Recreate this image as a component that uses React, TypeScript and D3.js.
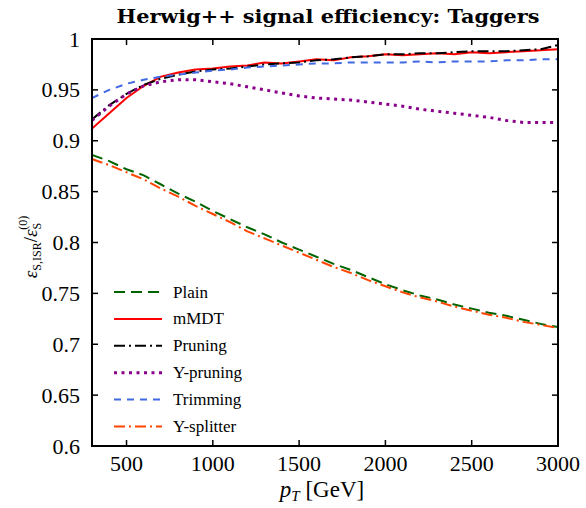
import React from "react";
import * as d3 from "d3";

const pT = [300, 400, 500, 600, 700, 800, 900, 1000, 1100, 1200, 1300, 1400, 1500, 1600, 1700, 1800, 1900, 2000, 2100, 2200, 2300, 2400, 2500, 2600, 2700, 2800, 2900, 3000];

const plain = [0.886, 0.880, 0.872, 0.866, 0.857, 0.848, 0.840, 0.831, 0.823, 0.815, 0.808, 0.800, 0.793, 0.786, 0.779, 0.773, 0.766, 0.759, 0.753, 0.748, 0.744, 0.739, 0.735, 0.731, 0.728, 0.724, 0.720, 0.717];
const mmdt = [0.912, 0.927, 0.942, 0.954, 0.963, 0.967, 0.970, 0.971, 0.973, 0.974, 0.977, 0.976, 0.978, 0.980, 0.979, 0.982, 0.983, 0.985, 0.984, 0.985, 0.986, 0.985, 0.987, 0.986, 0.987, 0.988, 0.989, 0.990];
const pruning = [0.921, 0.935, 0.946, 0.955, 0.961, 0.965, 0.968, 0.970, 0.971, 0.973, 0.975, 0.976, 0.977, 0.979, 0.980, 0.982, 0.983, 0.985, 0.985, 0.986, 0.986, 0.987, 0.988, 0.988, 0.988, 0.989, 0.990, 0.994];
const ypruning = [0.920, 0.934, 0.946, 0.954, 0.958, 0.960, 0.960, 0.958, 0.956, 0.953, 0.950, 0.947, 0.944, 0.942, 0.941, 0.940, 0.938, 0.936, 0.934, 0.931, 0.929, 0.927, 0.925, 0.923, 0.920, 0.918, 0.918, 0.918];
const trimming = [0.942, 0.950, 0.956, 0.960, 0.963, 0.965, 0.967, 0.969, 0.970, 0.972, 0.973, 0.974, 0.975, 0.976, 0.976, 0.977, 0.977, 0.977, 0.977, 0.978, 0.977, 0.978, 0.978, 0.978, 0.979, 0.979, 0.980, 0.980];
const ysplitter = [0.882, 0.876, 0.869, 0.862, 0.853, 0.845, 0.836, 0.828, 0.820, 0.811, 0.804, 0.797, 0.790, 0.783, 0.776, 0.770, 0.763, 0.757, 0.751, 0.746, 0.742, 0.737, 0.733, 0.729, 0.726, 0.722, 0.719, 0.716];

const seriesNames = ["Plain", "mMDT", "Pruning", "Y-pruning", "Trimming", "Y-splitter"];
const xTicks = [500, 1000, 1500, 2000, 2500, 3000];
const yTicks = [0.6, 0.65, 0.7, 0.75, 0.8, 0.85, 0.9, 0.95, 1];

const styles = [
  { color: "#006400", dash: "11,6", width: 2 },
  { color: "#ff0000", dash: "none", width: 2 },
  { color: "#000000", dash: "11,4,2,4", width: 2 },
  { color: "#8b008b", dash: "3,4.5", width: 3 },
  { color: "#4169e1", dash: "7,6", width: 2 },
  { color: "#ff4500", dash: "11,4,2,4", width: 2 },
];
const seriesData = [plain, mmdt, pruning, ypruning, trimming, ysplitter];

const W = 586, H = 508;
const L = 92, R = 558, T = 39, B = 446;
const FONT = "'Liberation Serif', 'Times New Roman', serif";

export default function App() {
  const x = d3.scaleLinear().domain([300, 3000]).range([L, R]);
  const y = d3.scaleLinear().domain([0.6, 1]).range([B, T]);
  const line = d3.line<number>().x((_, i) => x(pT[i])).y((d) => y(d));
  const tick = 6;
  const fmtY = (v: number) => (v === 1 ? "1" : String(+v.toFixed(2)));

  return (
    <svg width={W} height={H} style={{ position: "absolute", left: 0, top: 0, background: "#fff" }} fontFamily={FONT}>
      <defs>
        <clipPath id="plotclip">
          <rect x={L} y={T} width={R - L} height={B - T} />
        </clipPath>
      </defs>
      <rect x={0} y={0} width={W} height={H} fill="#fff" />
      <text x={328} y={23} textAnchor="middle" fontSize={18} fontWeight="bold" fontFamily="'DejaVu Serif', serif"
        textLength={423} lengthAdjust="spacingAndGlyphs">
        Herwig++ signal efficiency: Taggers
      </text>

      <g clipPath="url(#plotclip)">
        {seriesData.map((d, i) => (
          <path key={i} d={line(d) || ""} fill="none" stroke={styles[i].color} strokeWidth={styles[i].width}
            strokeDasharray={styles[i].dash} strokeLinecap="butt" strokeLinejoin="round" />
        ))}
      </g>

      {/* ticks */}
      {xTicks.map((t) => (
        <g key={"x" + t}>
          <line x1={x(t)} x2={x(t)} y1={B} y2={B - tick} stroke="#000" strokeWidth={1.5} />
          <line x1={x(t)} x2={x(t)} y1={T} y2={T + tick} stroke="#000" strokeWidth={1.5} />
          <text x={x(t)} y={471} textAnchor="middle" fontSize={22}>{t}</text>
        </g>
      ))}
      {yTicks.map((t) => (
        <g key={"y" + t}>
          <line x1={L} x2={L + tick} y1={y(t)} y2={y(t)} stroke="#000" strokeWidth={1.5} />
          <line x1={R} x2={R - tick} y1={y(t)} y2={y(t)} stroke="#000" strokeWidth={1.5} />
          <text x={80} y={y(t) + 7.5} textAnchor="end" fontSize={22}>{fmtY(t)}</text>
        </g>
      ))}
      <rect x={L} y={T} width={R - L} height={B - T} fill="none" stroke="#000" strokeWidth={2} />

      {/* legend */}
      {seriesNames.map((n, i) => {
        const ly = 292 + i * 26.9;
        return (
          <g key={n}>
            <line x1={114} x2={162} y1={ly} y2={ly} stroke={styles[i].color} strokeWidth={styles[i].width}
              strokeDasharray={styles[i].dash} />
            <text x={173} y={ly + 5.5} fontSize={17}>{n}</text>
          </g>
        );
      })}

      {/* x label */}
      <text x={322} y={497} textAnchor="middle" fontSize={23}>
        <tspan fontStyle="italic">p</tspan>
        <tspan fontStyle="italic" fontSize={15} dy={4}>T</tspan>
        <tspan dy={-4}> [GeV]</tspan>
      </text>

      {/* y label */}
      <text transform="translate(37,247) rotate(-90)" textAnchor="middle" fontSize={19}>
        <tspan fontStyle="italic">ε</tspan>
        <tspan fontSize={12} dy={4}>S,ISR</tspan>
        <tspan dy={-4}>/</tspan>
        <tspan fontStyle="italic">ε</tspan>
        <tspan fontSize={12} dy={4}>S</tspan>
        <tspan fontSize={12} dx={-7} dy={-14}>(0)</tspan>
      </text>
    </svg>
  );
}
